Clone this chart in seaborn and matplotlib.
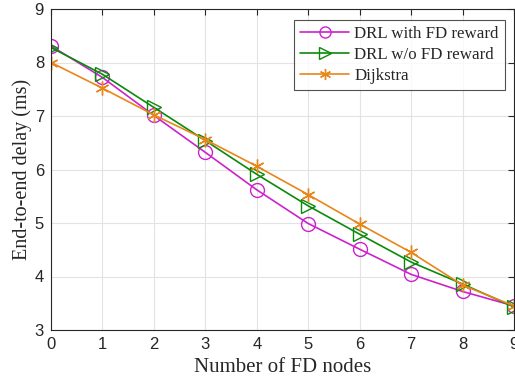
import matplotlib
matplotlib.use("Agg")
import matplotlib.pyplot as plt
import pandas as pd
import seaborn as sns

fd_nodes = [0, 1, 2, 3, 4, 5, 6, 7, 8, 9]
drl_fd = [8.31, 7.72, 7.01, 6.32, 5.62, 4.99, 4.51, 4.04, 3.72, 3.45]
drl_no_fd = [8.28, 7.78, 7.16, 6.54, 5.91, 5.32, 4.79, 4.27, 3.86, 3.43]
dijkstra = [8.0, 7.52, 7.02, 6.56, 6.06, 5.53, 4.98, 4.45, 3.84, 3.45]

series = ["DRL with FD reward", "DRL w/o FD reward", "Dijkstra"]

df = pd.concat([
    pd.DataFrame({"x": fd_nodes, "y": drl_fd, "method": series[0]}),
    pd.DataFrame({"x": fd_nodes, "y": drl_no_fd, "method": series[1]}),
    pd.DataFrame({"x": fd_nodes, "y": dijkstra, "method": series[2]}),
])

sns.set_theme(style="white")

colors = {series[0]: "#cc22cc", series[1]: "#0a8a0a", series[2]: "#e8861a"}
markers = {series[0]: "o", series[1]: ">", series[2]: (6, 2, 0)}

fig = plt.figure(figsize=(5.15, 3.81), dpi=100)
ax = fig.add_axes([51 / 515, 1 - 330 / 381, 463 / 515, 321 / 381])

for name in series:
    sub = df[df["method"] == name]
    sns.lineplot(data=sub, x="x", y="y", ax=ax, color=colors[name], label=name,
                 marker=markers[name], markersize=10,
                 markerfacecolor="none", markeredgecolor=colors[name],
                 markeredgewidth=1.0, linewidth=1.2)

ax.set_xlim(0, 9)
ax.set_ylim(3, 9)
ax.set_xticks(range(0, 10))
ax.set_yticks(range(3, 10))
ax.grid(True, color="#e3e3e3", linewidth=0.8)
ax.set_axisbelow(True)
for s in ax.spines.values():
    s.set_color("#262626")
    s.set_linewidth(0.8)
ax.tick_params(direction="in", length=4, width=0.8, color="#262626",
               top=True, right=True, labelsize=12, labelcolor="#262626", pad=5)
for lab in ax.get_xticklabels() + ax.get_yticklabels():
    lab.set_family("Liberation Sans")

ax.set_xlabel("Number of FD nodes", family="Liberation Serif", fontsize=15, labelpad=4)
ax.set_ylabel("End-to-end delay (ms)", family="Liberation Serif", fontsize=14.5, labelpad=2)

leg = ax.legend(loc="upper right", bbox_to_anchor=(0.98, 0.966),
                prop={"family": "Liberation Serif", "size": 12.2},
                frameon=True, fancybox=False, edgecolor="#262626",
                handlelength=2.9, handletextpad=0.3, borderpad=0.35,
                labelspacing=0.3, borderaxespad=0)
leg.get_frame().set_linewidth(0.8)
for h in leg.legend_handles:
    h.set_markersize(8)

fig.savefig("out.png", dpi=100)
